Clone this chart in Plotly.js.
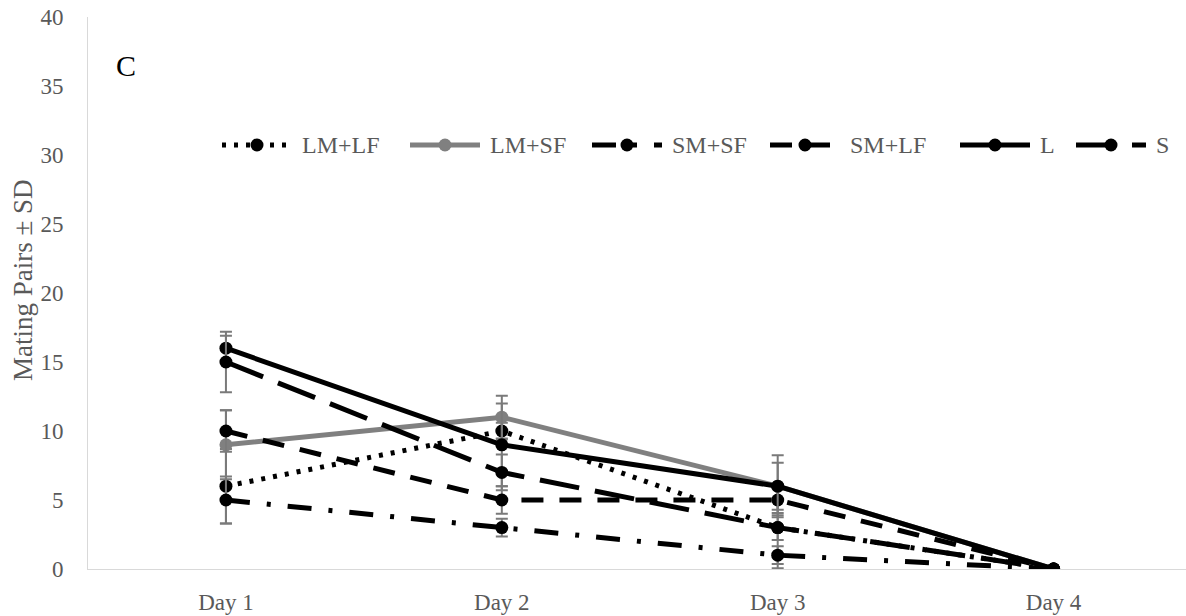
<!DOCTYPE html>
<html>
<head>
<meta charset="utf-8">
<script src="https://cdn.plot.ly/plotly-3.0.1.min.js"></script>
<style>
  html, body { margin: 0; padding: 0; background: #ffffff; }
  #chart { width: 1186px; height: 616px; }
</style>
</head>
<body>
<div id="chart"></div>
<script>
// Mating pairs per day for each pairing group, with standard deviations
const days = ['Day 1', 'Day 2', 'Day 3', 'Day 4'];
const groupNames = ['LM+LF', 'LM+SF', 'SM+SF', 'SM+LF', 'L', 'S'];

const lmLf = [6, 10, 3, 0];
const lmLfSd = [2.7, 0.6, 2.95, 0];

const lmSf = [9, 11, 6, 0];
const lmSfSd = [2.5, 1.55, 1.7, 0];

const smSf = [5, 3, 1, 0];
const smSfSd = [1.7, 0.65, 0.64, 0];

const smLf = [10, 5, 5, 0];
const smLfSd = [1.5, 1.0, 0.95, 0];

const lOnly = [16, 9, 6, 0];
const lOnlySd = [0.9, 3.0, 2.25, 0];

const sOnly = [15, 7, 3, 0];
const sOnlySd = [2.2, 1.3, 0.9, 0];

const TEXT = '#595959';
const SERIF = '"Liberation Serif", "Times New Roman", serif';
const ERR = '#7a7a7a';

// line styles per group, in legend order
const styles = [
  { color: '#000000', dash: '4px,8px' },
  { color: '#808080', dash: 'solid' },
  { color: '#000000', dash: '24px,17px,4px,17px' },
  { color: '#000000', dash: '22px,16px' },
  { color: '#000000', dash: 'solid' },
  { color: '#000000', dash: '40px,16px' }
];

const LINE_W = 5;
const MARK = 13;

function series(i, y, sd) {
  return {
    type: 'scatter',
    mode: 'lines+markers',
    name: groupNames[i],
    showlegend: false,
    x: days,
    y: y,
    line: { color: styles[i].color, width: LINE_W, dash: styles[i].dash },
    marker: { color: styles[i].color, size: MARK },
    error_y: { type: 'data', array: sd, visible: true, color: ERR, thickness: 2, width: 6 }
  };
}

const traces = [
  series(0, lmLf, lmLfSd),
  series(1, lmSf, lmSfSd),
  series(2, smSf, smSfSd),
  series(3, smLf, smLfSd),
  series(4, lOnly, lOnlySd),
  series(5, sOnly, sOnlySd)
];

// Legend drawn as a single row of long line samples, in pixel layout units
const W = 1186, H = 616;
const M = { l: 88, r: 0, t: 17, b: 47 };
const plotW = W - M.l - M.r, plotH = H - M.t - M.b;
const px = v => (v - M.l) / plotW;
const py = v => (H - M.b - v) / plotH;

const legendRowY = 145;
const sampleStart = [222, 410, 592, 770, 960, 1076];
const sampleLen = 70;
const labelGap = 8;

const shapes = [];
const annotations = [];
groupNames.forEach((name, i) => {
  const x0 = sampleStart[i], x1 = x0 + sampleLen;
  shapes.push({
    type: 'line', xref: 'paper', yref: 'paper',
    x0: px(x0), x1: px(x1), y0: py(legendRowY), y1: py(legendRowY),
    line: { color: styles[i].color, width: LINE_W, dash: styles[i].dash }
  });
  shapes.push({
    type: 'circle', xref: 'paper', yref: 'paper',
    xsizemode: 'pixel', ysizemode: 'pixel',
    xanchor: px((x0 + x1) / 2), yanchor: py(legendRowY),
    x0: -MARK / 2, x1: MARK / 2, y0: -MARK / 2, y1: MARK / 2,
    fillcolor: styles[i].color, line: { width: 0 }
  });
  annotations.push({
    text: name, xref: 'paper', yref: 'paper',
    x: px(x1 + labelGap), y: py(legendRowY),
    xanchor: 'left', yanchor: 'middle', showarrow: false,
    font: { family: SERIF, size: 24, color: TEXT }
  });
});

// panel letter
annotations.push({
  text: 'C',
  xref: 'paper', yref: 'paper',
  x: px(126), y: py(66),
  xanchor: 'center', yanchor: 'middle',
  showarrow: false,
  font: { family: SERIF, size: 30, color: '#000000' }
});

// y-axis title
annotations.push({
  text: 'Mating Pairs ± SD',
  xref: 'paper', yref: 'paper',
  x: px(23), y: py(280),
  xanchor: 'center', yanchor: 'middle',
  textangle: -90,
  showarrow: false,
  font: { family: SERIF, size: 27, color: TEXT }
});

const layout = {
  width: W,
  height: H,
  margin: M,
  paper_bgcolor: '#ffffff',
  plot_bgcolor: '#ffffff',
  font: { family: SERIF, size: 23, color: TEXT },
  showlegend: false,
  xaxis: {
    type: 'category',
    range: [-0.5, 3.48],
    showgrid: false,
    zeroline: false,
    showline: true,
    linecolor: '#d9d9d9',
    linewidth: 1,
    ticks: 'outside',
    ticklen: 12,
    tickcolor: 'rgba(0,0,0,0)',
    tickfont: { family: SERIF, size: 23, color: TEXT },
    fixedrange: true
  },
  yaxis: {
    range: [0, 40],
    dtick: 5,
    showgrid: false,
    zeroline: false,
    showline: true,
    linecolor: '#d9d9d9',
    linewidth: 1,
    ticks: 'outside',
    ticklen: 19,
    tickcolor: 'rgba(0,0,0,0)',
    tickfont: { family: SERIF, size: 23, color: TEXT },
    fixedrange: true
  },
  shapes: shapes,
  annotations: annotations
};

Plotly.newPlot('chart', traces, layout, { displayModeBar: false, staticPlot: true });
</script>
</body>
</html>
